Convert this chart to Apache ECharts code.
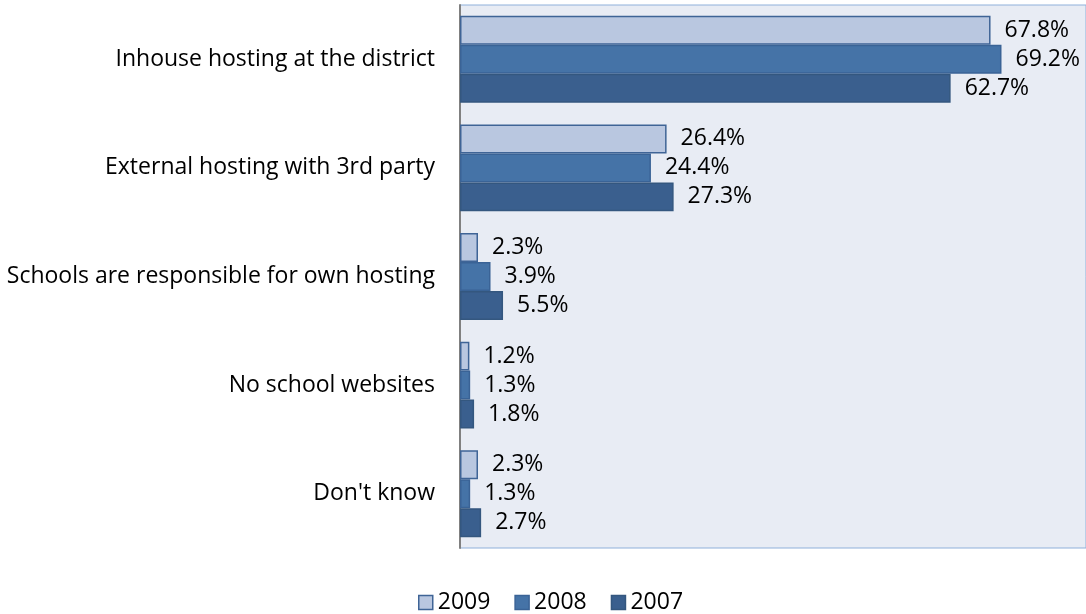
<!DOCTYPE html>
<html>
<head>
<meta charset="utf-8">
<script src="https://cdn.jsdelivr.net/npm/echarts@6/dist/echarts.min.js"></script>
<style>
  html, body { margin: 0; padding: 0; background: #ffffff; }
  #chart { width: 1086px; height: 614px; }
</style>
</head>
<body>
<div id="chart"></div>
<script>
// Website hosting arrangements, share of districts by survey year
const categories = [
  'Inhouse hosting at the district',
  'External hosting with 3rd party',
  'Schools are responsible for own hosting',
  'No school websites',
  "Don't know"
];
const years = ['2009', '2008', '2007'];
const values2009 = [67.8, 26.4, 2.3, 1.2, 2.3];
const values2008 = [69.2, 24.4, 3.9, 1.3, 1.3];
const values2007 = [62.7, 27.3, 5.5, 1.8, 2.7];

const fills = ['#B9C7E0', '#4573A7', '#3A5F8E'];
const borders = ['#3F6496', '#3A6396', '#34577F'];
const FONT = 'Open Sans';
const FS = 23;

function makeSeries(name, data, i) {
  return {
    name: name,
    type: 'bar',
    data: data,
    barGap: '0%',
    barCategoryGap: '20%',
    itemStyle: { color: fills[i], borderColor: borders[i], borderWidth: 1.5 },
    label: {
      show: true,
      position: 'right',
      distance: 14,
      formatter: p => p.value.toFixed(1) + '%',
      color: '#000',
      fontFamily: FONT,
      fontSize: FS
    }
  };
}

const chart = echarts.init(document.getElementById('chart'));
chart.setOption({
  animation: false,
  textStyle: { fontFamily: FONT },
  grid: {
    left: 460, right: 0, top: 5, bottom: 66,
    show: true, backgroundColor: '#E8ECF4', borderColor: '#8FB0DA', borderWidth: 1
  },
  legend: {
    bottom: -5, left: 413,
    icon: 'rect',
    itemWidth: 14, itemHeight: 14, itemGap: 24,
    textStyle: { fontFamily: FONT, fontSize: FS, color: '#000' },
    data: years.map((y, i) => ({ name: y, itemStyle: { borderColor: borders[i], borderWidth: 1.5 } }))
  },
  xAxis: {
    type: 'value', min: 0, max: 80,
    show: false
  },
  yAxis: {
    type: 'category',
    data: categories,
    inverse: true,
    axisLine: { show: true, lineStyle: { color: '#808080', width: 2 } },
    axisTick: { show: false },
    axisLabel: { margin: 25, fontFamily: FONT, fontSize: FS, color: '#000' }
  },
  series: [
    makeSeries(years[0], values2009, 0),
    makeSeries(years[1], values2008, 1),
    makeSeries(years[2], values2007, 2)
  ]
});
</script>
</body>
</html>
